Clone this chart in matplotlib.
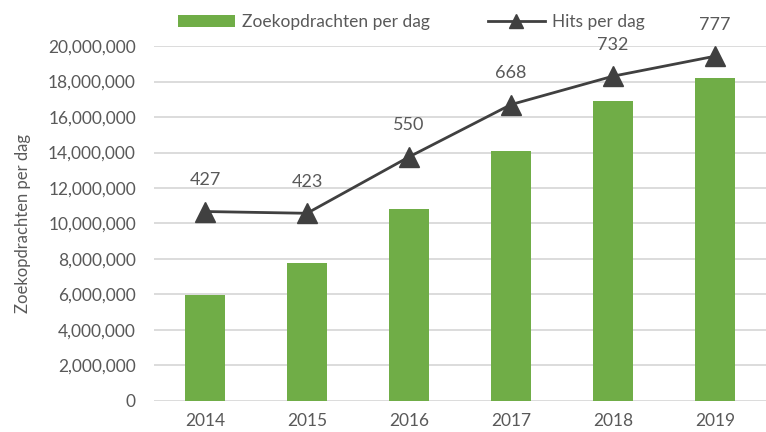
import matplotlib.pyplot as plt
from matplotlib.ticker import FuncFormatter

plt.rcParams['font.family'] = ['Lato', 'DejaVu Sans']

jaren = ['2014', '2015', '2016', '2017', '2018', '2019']
zoekopdrachten = [5950000, 7780000, 10830000, 14100000, 16900000, 18180000]
hits = [427, 423, 550, 668, 732, 777]

groen = '#70AD47'
donker = '#404040'
tekst = '#595959'

fig = plt.figure(figsize=(7.66, 4.32), dpi=100)
ax = fig.add_axes([0.201, 0.0718, 0.799, 0.8217])

x = list(range(len(jaren)))
ax.bar(x, zoekopdrachten, width=0.4, color=groen, zorder=2, label='Zoekopdrachten per dag')
ax.set_ylim(0, 20000000)
ax.set_xlim(-0.5, len(jaren) - 0.5)
ax.set_yticks(range(0, 20000001, 2000000))
ax.yaxis.set_major_formatter(FuncFormatter(lambda v, p: '{:,.0f}'.format(v)))
ax.set_xticks(x)
ax.set_xticklabels(jaren)
ax.grid(axis='y', color='#D9D9D9', linewidth=1.3, zorder=0)
for s in ax.spines.values():
    s.set_visible(False)
ax.tick_params(length=0, labelsize=12.5, colors=tekst)
ax.tick_params(axis='y', pad=13)
ax.tick_params(axis='x', pad=9)
ax.set_ylabel('Zoekopdrachten per dag', fontsize=12, color=tekst, labelpad=12)

ax2 = ax.twinx()
ax2.set_ylim(0, 800)
ax2.axis('off')
ax2.plot(x, hits, color=donker, linewidth=2, marker='^', markersize=15, zorder=3, label='Hits per dag')
for xi, h in zip(x, hits):
    ax2.annotate(str(h), (xi, h), xytext=(0, 17), textcoords='offset points',
                 ha='center', va='bottom', fontsize=13, color=tekst, annotation_clip=False)

h1, l1 = ax.get_legend_handles_labels()
h2, l2 = ax2.get_legend_handles_labels()
fig.legend(h1 + h2, l1 + l2, loc='center', bbox_to_anchor=(0.537, 0.948), ncol=2, frameon=False,
           fontsize=12.5, labelcolor=tekst, handlelength=3.3, columnspacing=3.3, handletextpad=0.4,
           markerscale=0.7)

plt.savefig('out.png')
